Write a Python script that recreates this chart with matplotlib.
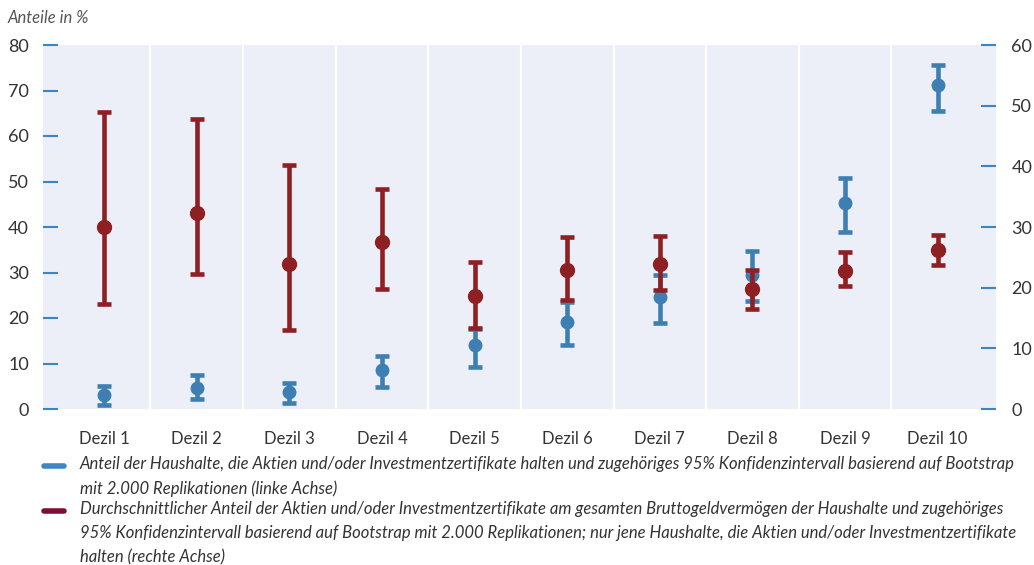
import numpy as np
import matplotlib.pyplot as plt
from matplotlib.lines import Line2D

# Dezile
categories = ['Dezil 1', 'Dezil 2', 'Dezil 3', 'Dezil 4', 'Dezil 5',
              'Dezil 6', 'Dezil 7', 'Dezil 8', 'Dezil 9', 'Dezil 10']

# Anteil der Haushalte mit Aktien/Investmentzertifikaten (linke Achse, %)
share_mid = [3.0, 4.7, 3.7, 8.5, 14.0, 19.1, 24.6, 29.5, 45.3, 71.3]
share_lo = [0.9, 2.1, 1.3, 4.8, 9.3, 14.1, 19.0, 23.7, 38.9, 65.5]
share_hi = [5.1, 7.4, 5.7, 11.6, 17.6, 23.6, 29.4, 34.7, 50.8, 75.7]

# Durchschnittlicher Anteil am Bruttogeldvermögen (rechte Achse, %)
port_mid = [30.0, 32.3, 23.9, 27.5, 18.6, 22.9, 23.9, 19.8, 22.8, 26.2]
port_lo = [17.3, 22.2, 13.0, 19.7, 13.3, 17.9, 19.6, 16.5, 20.2, 23.7]
port_hi = [49.0, 47.8, 40.2, 36.3, 24.3, 28.3, 28.5, 22.9, 25.9, 28.6]

left_ticks = [0, 10, 20, 30, 40, 50, 60, 70, 80]
right_ticks = [0, 10, 20, 30, 40, 50, 60]

legend_labels = [
    'Anteil der Haushalte, die Aktien und/oder Investmentzertifikate halten und zugehöriges 95% Konfidenzintervall basierend auf Bootstrap\n'
    'mit 2.000 Replikationen (linke Achse)',
    'Durchschnittlicher Anteil der Aktien und/oder Investmentzertifikate am gesamten Bruttogeldvermögen der Haushalte und zugehöriges\n'
    '95% Konfidenzintervall basierend auf Bootstrap mit 2.000 Replikationen; nur jene Haushalte, die Aktien und/oder Investmentzertifikate\n'
    'halten (rechte Achse)',
]

BLUE = '#3d7fb3'
RED = '#8e2023'
LEG_BLUE = '#3d87c2'
LEG_RED = '#7c1038'
BG = '#eceff7'
TXT = '#333333'
TICK = '#3d85c0'

plt.rcParams['font.family'] = ['Lato', 'DejaVu Sans']

W, H = 1034, 565
fig = plt.figure(figsize=(W / 100, H / 100), dpi=100)
ax = fig.add_axes([43 / W, 1 - 409 / H, (996 - 43) / W, (409 - 45) / H])
ax2 = ax.twinx()

x = np.arange(len(categories))

ax.set_facecolor(BG)
for s in list(ax.spines.values()) + list(ax2.spines.values()):
    s.set_visible(False)

# white separators between the deciles
for b in x[:-1] + 0.5:
    ax.axvline(b, color='white', lw=1.6, zorder=1)

share_mid = np.array(share_mid)
port_mid = np.array(port_mid)
ax.errorbar(x, share_mid,
            yerr=[share_mid - np.array(share_lo), np.array(share_hi) - share_mid],
            fmt='o', color=BLUE, ms=9, elinewidth=3.3, capsize=5, capthick=3.3,
            zorder=3)
ax2.errorbar(x, port_mid,
             yerr=[port_mid - np.array(port_lo), np.array(port_hi) - port_mid],
             fmt='o', color=RED, ms=10, elinewidth=3.3, capsize=5, capthick=3.3,
             zorder=3)

ax.set_xlim(-0.66, 9.63)
ax.set_ylim(0, 80)
ax2.set_ylim(0, 60)
ax.set_yticks(left_ticks)
ax2.set_yticks(right_ticks)
ax.set_xticks(x)
ax.set_xticklabels(categories)

ax.tick_params(axis='x', length=0, pad=16, labelsize=12, labelcolor=TXT)
ax.tick_params(axis='y', direction='in', length=11, width=1.5, color=TICK,
               pad=10, labelsize=13, labelcolor=TXT)
ax2.tick_params(axis='y', direction='in', length=11, width=1.5, color=TICK,
                pad=11, labelsize=13, labelcolor=TXT)

fig.text(8 / W, 1 - 18 / H, 'Anteile in %', fontsize=12, style='italic',
         color='#555555', va='center', ha='left')

# legend entries below the axis
leg_y = [466, 511]
for y0, col, lab in zip(leg_y, [LEG_BLUE, LEG_RED], legend_labels):
    fig.add_artist(Line2D([44 / W, 64 / W], [1 - y0 / H] * 2, color=col, lw=4,
                          solid_capstyle='round', transform=fig.transFigure))
    fig.text(80 / W, 1 - (y0 - 10) / H, lab, fontsize=12, style='italic',
             color=TXT, va='top', ha='left', linespacing=1.63)

fig.savefig('out.png', dpi=100)
